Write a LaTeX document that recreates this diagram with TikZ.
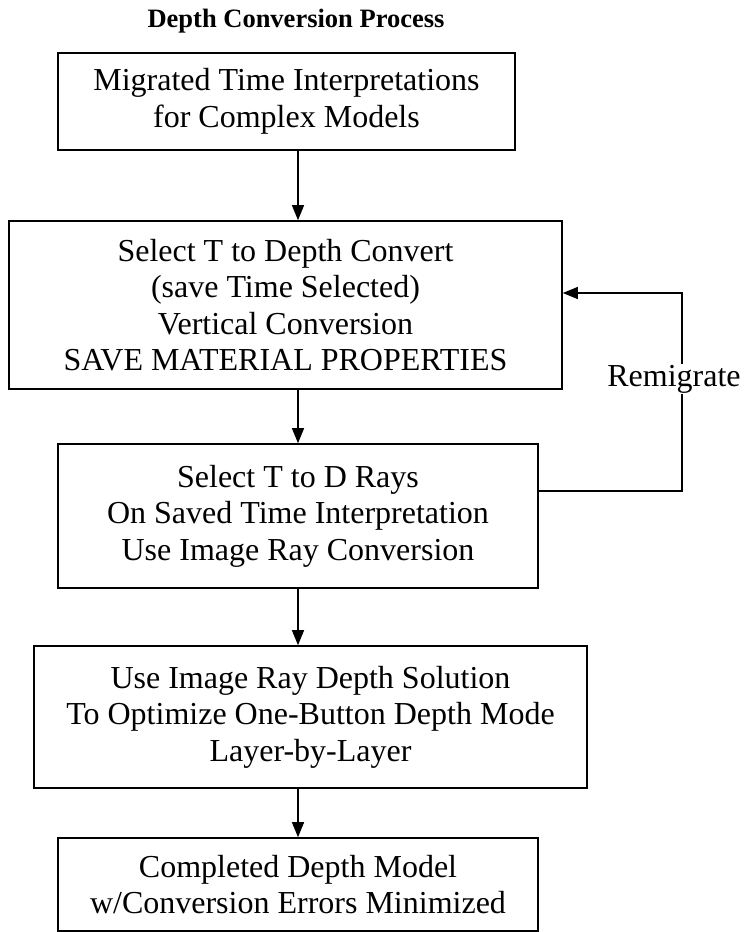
\documentclass[tikz,border=0pt]{standalone}
\usepackage{fontspec}
\setmainfont{Liberation Serif}
\usetikzlibrary{arrows.meta}
\tikzset{
  box/.style={draw, line width=1.6pt, align=center, inner sep=0pt,
    font=\fontsize{32}{36.5}\selectfont},
  arr/.style={line width=1.3pt, -{Triangle[width=12pt,length=15pt]}},
  lbl/.style={fill=white, inner sep=1pt, font=\fontsize{32}{36.5}\selectfont}
}
\begin{document}
\begin{tikzpicture}[x=1pt,y=-1pt]
\useasboundingbox (0,0) rectangle (749,932);
\node[font=\fontsize{26.5}{30}\selectfont\bfseries, anchor=base] (title) at (296,27) {Depth Conversion Process};
\node[box, minimum width=457pt, minimum height=97pt] (b1) at (286.5,101.5)
  {Migrated Time Interpretations\\for Complex Models};
\node[box, minimum width=553pt, minimum height=168pt] (b2) at (285.5,305)
  {Select T to Depth Convert\\(save Time Selected)\\Vertical Conversion\\SAVE MATERIAL PROPERTIES};
\node[box, minimum width=480pt, minimum height=144pt] (b3) at (298,516)
  {Select T to D Rays\\On Saved Time Interpretation\\Use Image Ray Conversion};
\node[box, minimum width=553pt, minimum height=142pt] (b4) at (310.5,717)
  {Use Image Ray Depth Solution\\To Optimize One-Button Depth Mode\\Layer-by-Layer};
\node[box, minimum width=480pt, minimum height=93pt] (b5) at (298,884.5)
  {Completed Depth Model\\w/Conversion Errors Minimized};
\draw[arr] (b1.south -| b3.center) -- (b2.north -| b3.center);
\draw[arr] (b2.south -| b3.center) -- (b3.north);
\draw[arr] (b3.south) -- (b4.north -| b3.center);
\draw[arr] (b4.south -| b3.center) -- (b5.north);
\coordinate (c1) at (682,491);
\coordinate (c2) at (682,293);
\draw[arr] (b3.east |- c1) -- (c1) -- (c2) -- (b2.east |- c2);
\node[lbl] (rem) at (674,379) {Remigrate};
\end{tikzpicture}
\end{document}
